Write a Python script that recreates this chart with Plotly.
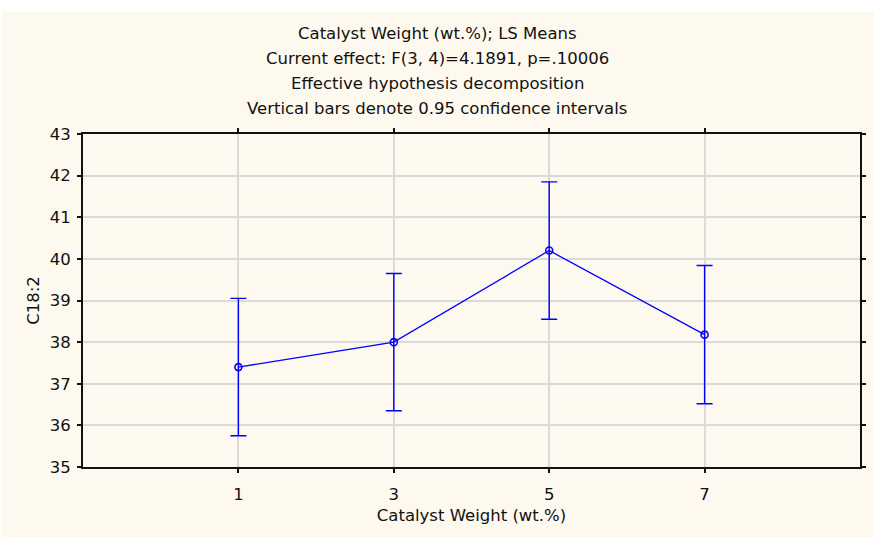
import plotly.graph_objects as go

# LS means of C18:2 by catalyst weight, with 0.95 confidence half-widths
catalyst_weight = [1, 3, 5, 7]
ls_mean = [37.40, 38.00, 40.20, 38.18]
ci_half = [1.65, 1.65, 1.65, 1.66]

y_ticks = [35, 36, 37, 38, 39, 40, 41, 42, 43]

title_lines = [
    "Catalyst Weight (wt.%); LS Means",
    "Current effect: F(3, 4)=4.1891, p=.10006",
    "Effective hypothesis decomposition",
    "Vertical bars denote 0.95 confidence intervals",
]

FONT = "DejaVu Sans, Verdana, sans-serif"
FS = 16.5
BLUE = "#0000FF"
CREAM = "#FEF9EE"
INK = "#111111"

W, H = 874, 540
L, R, T, B = 83, 14, 134, 73
PW, PH = W - L - R, H - T - B


def px_to_paper_x(px):
    return (px - L) / PW


def px_to_paper_y(py):
    return (H - B - py) / PH


fig = go.Figure()
fig.add_trace(go.Scatter(
    x=catalyst_weight,
    y=ls_mean,
    mode="lines+markers",
    line=dict(color=BLUE, width=1.3),
    marker=dict(symbol="circle-open", size=7, color=BLUE, line=dict(width=1.6)),
    error_y=dict(type="data", array=ci_half, visible=True,
                 color=BLUE, thickness=1.4, width=8),
    showlegend=False,
    hoverinfo="x+y",
))

# cream panel behind the whole chart
fig.add_shape(type="rect", xref="paper", yref="paper", layer="below",
              x0=px_to_paper_x(2), x1=px_to_paper_x(874),
              y0=px_to_paper_y(537), y1=px_to_paper_y(12),
              fillcolor=CREAM, line=dict(width=0))

for i, line in enumerate(title_lines):
    fig.add_annotation(text=line, xref="paper", yref="paper",
                       x=px_to_paper_x(437), y=px_to_paper_y(33 + 25 * i),
                       xanchor="center", yanchor="middle", showarrow=False,
                       font=dict(family=FONT, size=FS, color=INK))

axis_common = dict(
    automargin=False,
    showgrid=True, gridcolor="#DADADA", gridwidth=1.5,
    zeroline=False, showline=True, linecolor=INK, linewidth=1.8,
    mirror="ticks", ticks="outside", ticklen=4, tickcolor=INK, tickwidth=1.5,
    tickfont=dict(family=FONT, size=FS, color=INK),
)

fig.update_layout(
    width=W, height=H,
    margin=dict(l=L, r=R, t=T, b=B, pad=0),
    paper_bgcolor="white",
    plot_bgcolor="white",
    font=dict(family=FONT, size=FS, color=INK),
    xaxis=dict(
        range=[-1, 9], tickvals=catalyst_weight,
        ticktext=[str(v) for v in catalyst_weight],
        ticklabelstandoff=7,
        title=dict(text="Catalyst Weight (wt.%)", standoff=7,
                   font=dict(family=FONT, size=FS, color=INK)),
        **axis_common,
    ),
    yaxis=dict(
        range=[35, 43], tickvals=y_ticks,
        ticklabelstandoff=3,
        title=dict(text="C18:2", standoff=6,
                   font=dict(family=FONT, size=FS, color=INK)),
        **axis_common,
    ),
)

fig.write_html("out.html")
